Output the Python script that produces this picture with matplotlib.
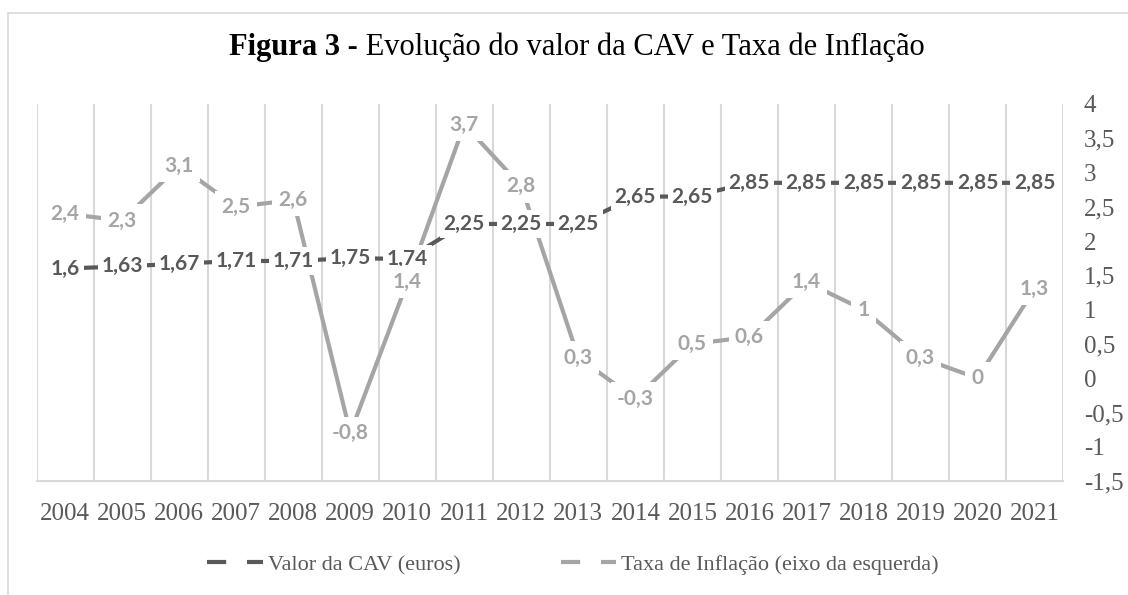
import matplotlib
matplotlib.use("Agg")
import matplotlib.pyplot as plt
from matplotlib.lines import Line2D
from matplotlib.patches import Rectangle

years = ["2004", "2005", "2006", "2007", "2008", "2009", "2010", "2011", "2012",
         "2013", "2014", "2015", "2016", "2017", "2018", "2019", "2020", "2021"]
cav = [1.6, 1.63, 1.67, 1.71, 1.71, 1.75, 1.74, 2.25, 2.25, 2.25, 2.65, 2.65,
       2.85, 2.85, 2.85, 2.85, 2.85, 2.85]
inflacao = [2.4, 2.3, 3.1, 2.5, 2.6, -0.8, 1.4, 3.7, 2.8, 0.3, -0.3, 0.5, 0.6,
            1.4, 1.0, 0.3, 0.0, 1.3]
y_ticks = [-1.5, -1, -0.5, 0, 0.5, 1, 1.5, 2, 2.5, 3, 3.5, 4]
serie_cav = "Valor da CAV (euros)"
serie_inf = "Taxa de Inflação (eixo da esquerda)"

DARK = "#595959"
LIGHT = "#A5A5A5"
GRID = "#D9D9D9"
SERIF = "Liberation Serif"
LABEL_FONT = "Lato"
W, H = 1128, 595

def fmt(v):
    return f"{v:g}".replace(".", ",")

fig = plt.figure(figsize=(W / 100, H / 100), dpi=100)
fig.patches.append(Rectangle((7.5 / W, -0.1), 1.2, 1.1 - 13 / H,
                             transform=fig.transFigure, fill=False,
                             edgecolor=GRID, linewidth=1.2))

ax = fig.add_axes([36.7 / W, 1 - 481 / H, (1063 - 36.7) / W, 377 / H])
x = list(range(len(years)))
ax.plot(x, cav, color=DARK, linewidth=3.0, solid_capstyle="butt", zorder=3)
ax.plot(x, inflacao, color=LIGHT, linewidth=3.0, solid_capstyle="butt", zorder=4)

for xi, v in zip(x, cav):
    ax.text(xi, v, fmt(v), ha="center", va="center", fontsize=15,
            fontweight="bold", family=LABEL_FONT, color=DARK, zorder=6,
            bbox=dict(boxstyle="square,pad=0.18", fc="white", ec="none"))
for xi, v in zip(x, inflacao):
    ax.text(xi, v, fmt(v), ha="center", va="center", fontsize=15,
            fontweight="bold", family=LABEL_FONT, color=LIGHT, zorder=6,
            bbox=dict(boxstyle="square,pad=0.3", fc="white", ec="none"))

ax.set_xlim(-0.5, len(years) - 0.5)
ax.set_ylim(-1.5, 4)
ax.set_xticks(x)
ax.set_xticklabels(years, family=SERIF, fontsize=18, color=DARK)
ax.set_xticks([i - 0.5 for i in range(len(years) + 1)], minor=True)
ax.grid(True, which="minor", axis="x", color=GRID, linewidth=1.5)
ax.grid(False, which="major")
ax.tick_params(axis="x", which="both", length=0, pad=16)
ax.yaxis.tick_right()
ax.set_yticks(y_ticks)
ax.set_yticklabels([fmt(t) for t in y_ticks], family=SERIF, fontsize=18, color=DARK)
ax.tick_params(axis="y", length=0, pad=15)
for s in ["top", "left", "right"]:
    ax.spines[s].set_visible(False)
ax.spines["bottom"].set_color(GRID)
ax.spines["bottom"].set_linewidth(1.5)

# Title: bold prefix + regular remainder, centered
ty = 1 - 55 / H
t1 = fig.text(0, ty, "Figura 3 -", family=SERIF, fontsize=22,
              fontweight="bold", color="black", va="baseline", ha="left")
t2 = fig.text(0, ty, " Evolução do valor da CAV e Taxa de Inflação",
              family=SERIF, fontsize=22, color="black", va="baseline", ha="left")
fig.canvas.draw()
r = fig.canvas.get_renderer()
w1 = t1.get_window_extent(r).width
w2 = t2.get_window_extent(r).width
start = (577 - (w1 + w2) / 2) / W
t1.set_x(start)
t2.set_x(start + w1 / W)

dash = (0, (4.6, 5.0, 4.6, 5.0))
handles = [Line2D([], [], color=DARK, linewidth=3.0, linestyle=dash),
           Line2D([], [], color=LIGHT, linewidth=3.0, linestyle=dash)]
leg = fig.legend(handles, [serie_cav, serie_inf], loc="center",
                 bbox_to_anchor=(573 / W, 1 - 565 / H), ncol=2,
                 frameon=False, prop={"family": SERIF, "size": 16},
                 handlelength=2.5, handletextpad=0.22, columnspacing=4.5)
for t in leg.get_texts():
    t.set_color(DARK)

fig.savefig("out.png", dpi=100)
